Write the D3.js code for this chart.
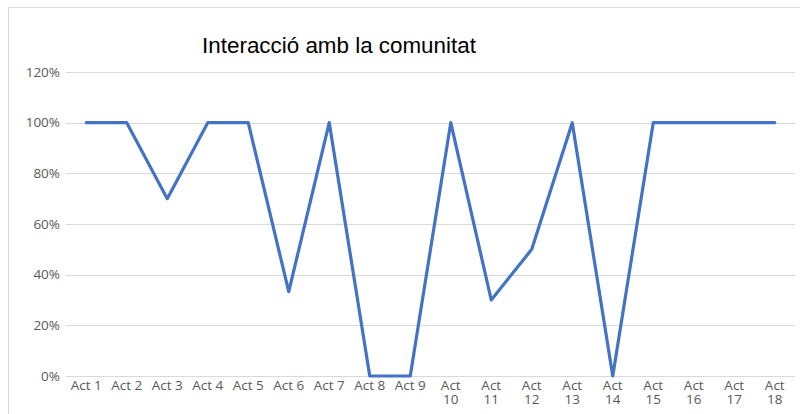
<!DOCTYPE html>
<html><head><meta charset="utf-8">
<script src="https://cdn.jsdelivr.net/npm/d3@7"></script>
<style>body{margin:0;background:#fff}svg{display:block}</style>
</head><body>
<svg id="c" width="800" height="414"></svg>
<script>
const categories = ["Act 1","Act 2","Act 3","Act 4","Act 5","Act 6","Act 7","Act 8","Act 9","Act 10","Act 11","Act 12","Act 13","Act 14","Act 15","Act 16","Act 17","Act 18"];
const values = [1,1,0.7,1,1,0.333,1,0,0,1,0.3,0.5,1,0,1,1,1,1];
const yTicks = [0,0.2,0.4,0.6,0.8,1.0,1.2];
const title = "Interacció amb la comunitat";

const svg = d3.select("#c");
svg.append("rect").attr("x",8.5).attr("y",7.5).attr("width",800).attr("height",420)
  .attr("fill","#fff").attr("stroke","#d9d9d9").attr("stroke-width",1);

const x = d3.scaleBand().domain(categories).range([66,795]);
const y = d3.scaleLinear().domain([0,1.2]).range([376,72]);

const fmt = d3.format(".0%");
const grid = svg.append("g");
grid.selectAll("line").data(yTicks).join("line")
  .attr("x1",66).attr("x2",795)
  .attr("y1",d=>Math.round(y(d))+0.5).attr("y2",d=>Math.round(y(d))+0.5)
  .attr("stroke","#d9d9d9").attr("stroke-width",1);

const yAxis = d3.axisLeft(y).tickValues(yTicks).tickFormat(fmt).tickSize(0).tickPadding(6);
const ya = svg.append("g").attr("transform","translate(66,0)").call(yAxis);
ya.select(".domain").remove();
ya.selectAll("text").attr("fill","#595959").style("font-family","'Open Sans', sans-serif").style("font-size","13.5px");

const xAxis = d3.axisBottom(x).tickSize(0).tickPadding(4);
const xa = svg.append("g").attr("transform","translate(0,376)").call(xAxis);
xa.select(".domain").remove();
xa.selectAll("text").attr("fill","#595959").style("font-family","'Open Sans', sans-serif").style("font-size","13.5px")
  .each(function(d){
    const parts = d.split(" ");
    const t = d3.select(this);
    if (+parts[1] >= 10) {
      t.text(null);
      t.append("tspan").attr("x",0).attr("dy","0.71em").text(parts[0]);
      t.append("tspan").attr("x",0).attr("dy","14px").text(parts[1]);
      t.attr("dy",null);
    }
  });

const line = d3.line().x((d,i)=>x(categories[i])+x.bandwidth()/2).y(d=>y(d));
svg.append("path").datum(values).attr("d",line).attr("fill","none")
  .attr("stroke","#4472C4").attr("stroke-width",3.2).attr("stroke-linejoin","round").attr("stroke-linecap","round");

svg.append("text").attr("x",339).attr("y",53).attr("text-anchor","middle")
  .style("font-family","'Liberation Sans', Arial, sans-serif").style("font-size","22.4px").attr("fill","#000").text(title);
</script>
</body></html>
